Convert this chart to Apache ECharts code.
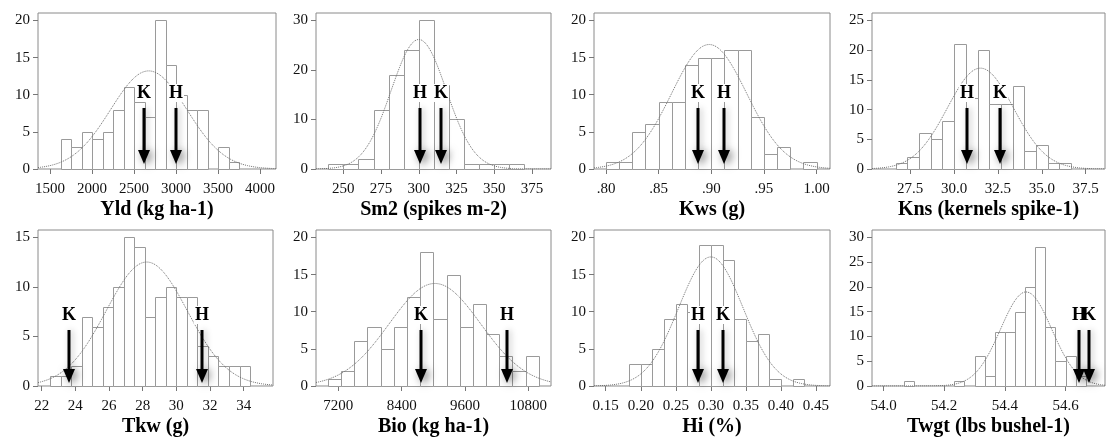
<!DOCTYPE html>
<html><head><meta charset="utf-8">
<script src="https://cdn.jsdelivr.net/npm/echarts@6/dist/echarts.min.js"></script>
<style>html,body{margin:0;padding:0;background:#fff;font-family:"Liberation Serif",serif}#c{width:1107px;height:442px}</style>
</head><body><div id="c"></div>
<script>
// ---- data ----
const titles = ['Yld (kg ha-1)','Sm2 (spikes m-2)','Kws (g)','Kns (kernels spike-1)','Tkw (g)','Bio (kg ha-1)','Hi (%)','Twgt (lbs bushel-1)'];

const yldCounts  = [4,3,5,4,5,8,11,9,7,20,14,10,8,8,0,3,1];
const sm2Counts  = [1,1,2,12,19,24,30,17,10,1,1,1,1];
const kwsCounts  = [1,1,5,6,9,9,14,15,15,16,16,7,2,3,0,1];
const knsCounts  = [1,2,6,5,8,21,12,20,11,11,14,3,4,1,1];
const tkwCounts  = [1,1,2,7,6,8,10,15,14,7,9,10,9,9,4,3,2,2,2];
const bioCounts  = [1,2,6,8,5,8,12,18,9,15,8,11,7,4,2,4];
const hiCounts   = [3,3,5,9,11,10,19,19,17,9,6,7,1,0,1];
const twgtCounts = [1,0,0,0,0,1,0,6,2,11,11,15,20,28,12,5,6,2];
const allCounts = [yldCounts, sm2Counts, kwsCounts, knsCounts, tkwCounts, bioCounts, hiCounts, twgtCounts];

const binStarts = [1625, 240, 0.8, 80/3, 22.5, 7000, 11/60, 54 + 2/30];
const binWidths = [125, 10, 0.0125, 2/3, 0.625, 250, 1/60, 1/30];

// fitted normal curve parameters
const curveMeans = [2675, 300, 0.898, 31.5, 28.24, 9030, 0.300, 54.47];
const curveSds   = [453, 18.3, 0.0357, 1.88, 2.41, 867, 0.0459, 0.084];

// H / K arrow positions
const markerX = [[2620,3000],[300.8,315],[0.8877,0.9123],[30.73,32.62],[23.65,31.55],[8760,10402],[0.2821,0.3167],[54.645,54.678]];
const markerLabels = [['K','H'],['H','K'],['K','H'],['H','K'],['K','H'],['K','H'],['H','K'],['H','K']];

const xTicks = [
  [1500,2000,2500,3000,3500,4000],
  [250,275,300,325,350,375],
  [0.80,0.85,0.90,0.95,1.00],
  [27.5,30,32.5,35,37.5],
  [22,24,26,28,30,32,34],
  [7200,8400,9600,10800],
  [0.15,0.20,0.25,0.30,0.35,0.40,0.45],
  [54.0,54.2,54.4,54.6]
];
const xTickLabels = [
  ['1500','2000','2500','3000','3500','4000'],
  ['250','275','300','325','350','375'],
  ['.80','.85','.90','.95','1.00'],
  ['27.5','30.0','32.5','35.0','37.5'],
  ['22','24','26','28','30','32','34'],
  ['7200','8400','9600','10800'],
  ['0.15','0.20','0.25','0.30','0.35','0.40','0.45'],
  ['54.0','54.2','54.4','54.6']
];
const yTicks = [
  [0,5,10,15,20],[0,10,20,30],[0,5,10,15,20],[0,5,10,15,20,25],
  [0,5,10,15],[0,5,10,15,20],[0,5,10,15,20],[0,5,10,15,20,25,30]
];
const xRanges = [[1357,4190],[231.9,387.6],[0.7886,1.0128],[25.32,38.6],[21.78,35.74],[6777,11230],[0.1333,0.47],[53.962,54.73]];

// ---- layout ----
const gridLefts = [38,316,594,872, 38,316,594,872];
const gridWidths = [238,235,236,233, 235,235,236,233];
const gridTops = [13,13,13,13, 230,230,230,230];
const gridH = 156;
const arrowOffsets = [[80,95,151],[85,100,153]]; // label centre, shaft top, tip (px below grid top)
const FONT = 'Liberation Serif, Times New Roman, serif';

const grids = [], xAxes = [], yAxes = [], series = [];

for (let i = 0; i < 8; i++) {
  grids.push({left: gridLefts[i], top: gridTops[i], width: gridWidths[i], height: gridH,
    show: true, borderColor: '#8a8a8a', borderWidth: 1, backgroundColor: 'transparent', containLabel: false, outerBoundsMode: 'none'});
  const xt = xTicks[i], xl = xTickLabels[i];
  xAxes.push({
    gridIndex: i, type: 'value', min: xRanges[i][0], max: xRanges[i][1],
    axisLine: {show: false}, splitLine: {show: false},
    axisTick: {show: true, customValues: xt, length: 5, lineStyle: {color: '#777'}},
    axisLabel: {customValues: xt, margin: 13, fontFamily: FONT, fontSize: 15, color: '#111',
      formatter: (v) => { for (let k = 0; k < xt.length; k++) if (Math.abs(xt[k]-v) < 1e-6*Math.max(1,Math.abs(v))) return xl[k]; return ''; }},
    name: titles[i], nameLocation: 'middle', nameGap: 31,
    nameTextStyle: {fontFamily: FONT, fontWeight: 'bold', fontSize: 20, color: '#000'}
  });
  const yt = yTicks[i];
  const ymax = yt[yt.length-1] * 1.05;
  yAxes.push({
    gridIndex: i, type: 'value', min: 0, max: ymax,
    axisLine: {show: false}, splitLine: {show: false},
    axisTick: {show: true, customValues: yt, length: 5, lineStyle: {color: '#777'}},
    axisLabel: {customValues: yt, margin: 8, fontFamily: FONT, fontSize: 15, color: '#111'}
  });

  // histogram bars
  const counts = allCounts[i];
  const barData = counts.map((c, k) => [binStarts[i] + k*binWidths[i], binStarts[i] + (k+1)*binWidths[i], c]);
  series.push({
    type: 'custom', xAxisIndex: i, yAxisIndex: i, z: 2, silent: true,
    encode: {x: [0,1], y: 2},
    data: barData,
    renderItem: (params, api) => {
      const c = api.value(2);
      if (!(c > 0)) return;
      const p0 = api.coord([api.value(0), c]);
      const p1 = api.coord([api.value(1), 0]);
      const x0 = Math.round(p0[0]) + 0.5, x1 = Math.round(p1[0]) + 0.5;
      const y0 = Math.round(p0[1]) + 0.5, y1 = Math.round(p1[1]) + 0.5;
      return {type: 'rect', shape: {x: x0, y: y0, width: x1 - x0, height: y1 - y0},
        style: {fill: '#fff', stroke: '#9a9a9a', lineWidth: 1}};
    }
  });

  // fitted normal curve
  const N = counts.reduce((a, b) => a + b, 0);
  const mu = curveMeans[i], sd = curveSds[i], bw = binWidths[i];
  const curve = [];
  const steps = 200;
  for (let s = 0; s <= steps; s++) {
    const x = xRanges[i][0] + (xRanges[i][1] - xRanges[i][0]) * s / steps;
    const z = (x - mu) / sd;
    curve.push([x, N * bw * Math.exp(-0.5*z*z) / (sd * Math.sqrt(2*Math.PI))]);
  }
  series.push({
    type: 'line', xAxisIndex: i, yAxisIndex: i, z: 3, silent: true,
    data: curve, symbol: 'none', showSymbol: false, smooth: false, clip: true,
    lineStyle: {type: 'dotted', width: 1, color: '#707070'}
  });

  // H / K arrows
  const offs = arrowOffsets[gridTops[i] > 100 ? 1 : 0];
  const labels = markerLabels[i];
  series.push({
    type: 'custom', xAxisIndex: i, yAxisIndex: i, z: 5, silent: true,
    encode: {x: 0},
    data: markerX[i].map(v => [v, 0]),
    renderItem: (params, api) => {
      const cs = params.coordSys;
      const px = Math.round(api.coord([api.value(0), 0])[0]);
      const yl = cs.y + offs[0], yt0 = cs.y + offs[1], tip = cs.y + offs[2];
      const headH = 14, headW = 6;
      return {type: 'group', children: [
        {type: 'rect', z2: 1, shape: {x: px - 8, y: yl - 9, width: 16, height: 18}, style: {fill: '#fff'}},
        {type: 'polygon', z2: 5, shape: {points: [[px-headW, tip-headH], [px+headW, tip-headH], [px, tip]]},
          style: {fill: '#000', shadowBlur: 9, shadowColor: 'rgba(0,0,0,0.55)', shadowOffsetX: 3, shadowOffsetY: 2}},
        {type: 'line', z2: 5, shape: {x1: px, y1: yt0, x2: px, y2: tip - headH + 1},
          style: {stroke: '#000', lineWidth: 3, shadowBlur: 6, shadowColor: 'rgba(0,0,0,0.25)', shadowOffsetX: 2}},
        {type: 'text', z2: 10, x: px, y: yl, style: {text: labels[params.dataIndex], fill: '#000',
          fontFamily: FONT, fontWeight: 'bold', fontSize: 18, align: 'center', verticalAlign: 'middle'}}
      ]};
    }
  });
}

const chart = echarts.init(document.getElementById('c'), null, {renderer: 'canvas'});
chart.setOption({animation: false, backgroundColor: '#fff', textStyle: {fontFamily: FONT},
  grid: grids, xAxis: xAxes, yAxis: yAxes, series: series});
</script>
</body></html>
